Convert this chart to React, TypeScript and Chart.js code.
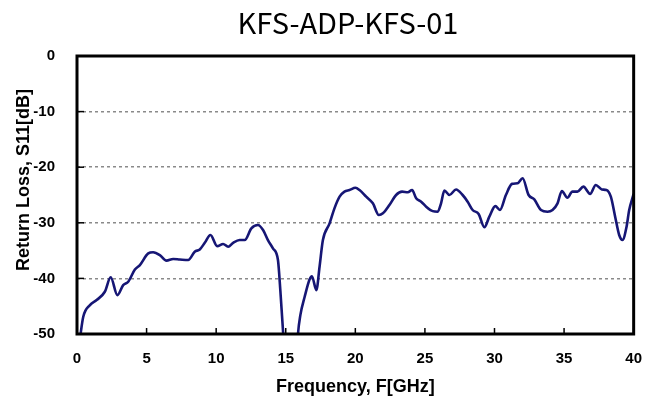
import React, { useEffect, useRef } from "react";
import { Chart, registerables } from "chart.js";

Chart.register(...registerables);

const chartTitle = "KFS-ADP-KFS-01";
const xAxisTitle = "Frequency, F[GHz]";
const yAxisTitle = "Return Loss, S11[dB]";

const freqGHz = [
  0.2, 0.45, 0.93, 1.41, 2.0, 2.42, 2.9, 3.32, 3.68, 4.16, 4.52, 5.12, 5.47, 5.95, 6.43, 6.91, 7.39, 7.99,
  8.46, 8.82, 9.18, 9.59, 10.07, 10.5, 10.86, 11.22, 11.69, 12.05, 12.53, 13.0, 13.37, 13.72, 14.08, 14.44,
  14.61, 14.8, 15.0, 15.4, 15.75, 15.88, 16.05, 16.36, 16.71, 16.88, 17.2, 17.43, 17.67, 18.15, 18.5, 18.87,
  19.22, 19.58, 20.01, 20.3, 20.78, 21.26, 21.69, 21.98, 22.45, 22.93, 23.36, 23.77, 24.08, 24.37, 24.73,
  25.09, 25.56, 25.92, 26.16, 26.4, 26.76, 27.24, 27.71, 28.07, 28.43, 28.86, 29.27, 29.63, 30.06, 30.39,
  30.82, 31.26, 31.66, 32.02, 32.45, 32.86, 33.34, 33.81, 34.17, 34.53, 34.84, 35.24, 35.6, 35.96, 36.39,
  36.87, 37.28, 37.71, 38.04, 38.36, 38.67, 38.96, 39.2, 39.49, 39.68, 40.0,
];

const s11dB = [
  -51, -46.9, -44.8, -43.9, -42.4, -39.8, -43.0, -41.2, -40.6, -38.4, -37.6, -35.5, -35.3, -35.8, -36.8, -36.5,
  -36.6, -36.7, -35.2, -34.8, -33.6, -32.2, -34.2, -33.8, -34.3, -33.6, -33.1, -33.1, -31.0, -30.4, -31.3,
  -33.1, -34.6, -36.7, -42.1, -49.3, -56, -60, -56, -50, -46.6, -43.3, -40.2, -39.6, -42.1, -37.9, -33.1,
  -30.1, -27.4, -25.3, -24.4, -24.1, -23.7, -24.1, -25.3, -26.5, -28.6, -28.3, -26.8, -25.0, -24.4, -24.5,
  -24.1, -25.6, -26.2, -27.1, -27.9, -28.0, -26.5, -24.2, -25.0, -24.0, -25.0, -26.2, -27.7, -28.4, -30.8,
  -28.9, -27.0, -27.7, -25.0, -23.0, -22.9, -22.0, -25.0, -25.8, -27.7, -28.0, -27.7, -26.5, -24.3, -25.5,
  -24.4, -24.4, -23.5, -24.8, -23.2, -24.0, -24.1, -25.3, -28.9, -32.2, -33.1, -30.7, -27.7, -24.8,
];

const frameAndTitles = {
  id: "frameAndTitles",
  afterDraw(chart: any) {
    const ctx = chart.ctx;
    const a = chart.chartArea;
    const xs = chart.scales.x;
    const ys = chart.scales.y;
    ctx.save();
    ctx.strokeStyle = "#000";
    ctx.lineWidth = 1.5;
    xs.ticks.forEach((t: any) => {
      const px = xs.getPixelForValue(t.value);
      ctx.beginPath();
      ctx.moveTo(px, a.bottom);
      ctx.lineTo(px, a.bottom - 6);
      ctx.stroke();
    });
    ys.ticks.forEach((t: any) => {
      const py = ys.getPixelForValue(t.value);
      ctx.beginPath();
      ctx.moveTo(a.left, py);
      ctx.lineTo(a.left + 7, py);
      ctx.stroke();
    });
    ctx.lineWidth = 3;
    ctx.strokeRect(a.left, a.top, a.right - a.left, a.bottom - a.top);

    ctx.fillStyle = "#000";
    ctx.textAlign = "center";
    ctx.textBaseline = "alphabetic";
    ctx.font = '29px "Noto Sans CJK KR"';
    ctx.fillText(chartTitle, 348, 34);

    ctx.font = 'bold 18px "Liberation Sans"';
    ctx.fillText(xAxisTitle, (a.left + a.right) / 2, 392);

    ctx.translate(29, 180);
    ctx.rotate(-Math.PI / 2);
    ctx.fillText(yAxisTitle, 0, 0);
    ctx.restore();
  },
};

export default function App() {
  const ref = useRef<HTMLCanvasElement | null>(null);
  useEffect(() => {
    if (!ref.current) return;
    const chart = new Chart(ref.current, {
      type: "line",
      data: {
        datasets: [
          {
            data: freqGHz.map((f, i) => ({ x: f, y: s11dB[i] })),
            borderColor: "#161675",
            borderWidth: 2.6,
            pointRadius: 0,
            cubicInterpolationMode: "monotone",
            fill: false,
          },
        ],
      },
      options: {
        responsive: false,
        animation: false,
        layout: { padding: { top: 56, left: 0, right: 23, bottom: 0 } },
        plugins: { legend: { display: false }, tooltip: { enabled: false }, title: { display: false } },
        scales: {
          x: {
            type: "linear",
            min: 0,
            max: 40,
            afterFit: (s: any) => {
              s.height = 67;
            },
            ticks: {
              stepSize: 5,
              padding: 16,
              color: "#000",
              font: { family: "Liberation Sans", size: 15, weight: "bold" },
            },
            grid: { display: false, drawTicks: false },
            border: { display: false },
          },
          y: {
            min: -50,
            max: 0,
            afterFit: (s: any) => {
              s.width = 77;
            },
            ticks: {
              stepSize: 10,
              padding: 22,
              color: "#000",
              font: { family: "Liberation Sans", size: 15, weight: "bold" },
            },
            grid: {
              color: "#8a8a8a",
              lineWidth: 1.5,
              drawTicks: false,
            },
            border: { display: false, dash: [3, 3] },
          },
        },
      },
      plugins: [frameAndTitles],
    });
    return () => chart.destroy();
  }, []);
  return (
    <div style={{ position: "absolute", left: 0, top: 0, width: 658, height: 401 }}>
      <canvas ref={ref} width={658} height={401} style={{ display: "block" }} />
    </div>
  );
}
